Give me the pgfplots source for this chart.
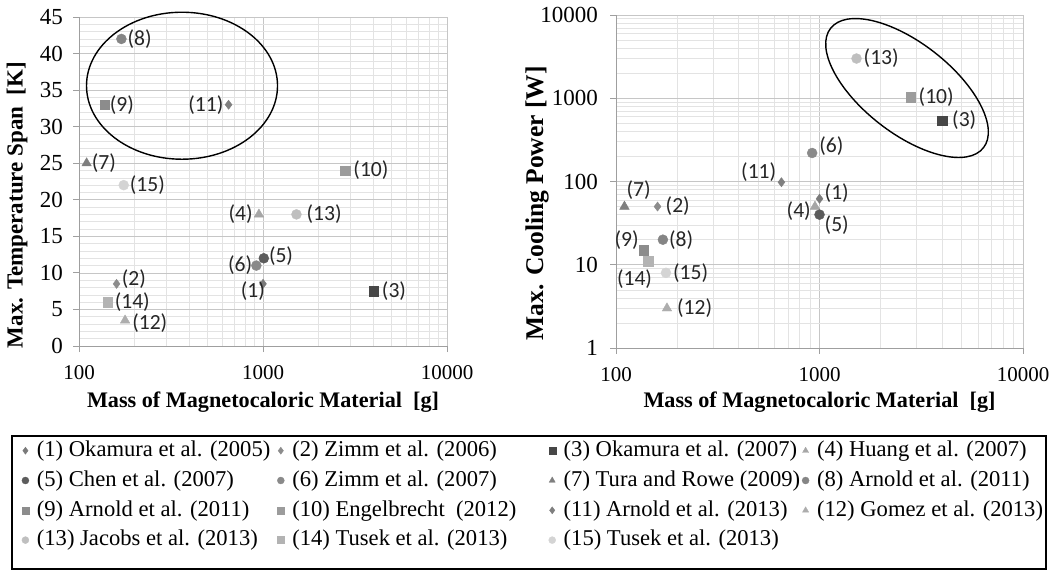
\documentclass[border=0pt]{standalone}
\usepackage{fontspec}
\setmainfont{Liberation Serif}
\newfontfamily\calibri{Carlito}
\usepackage{pgfplots}
\pgfplotsset{compat=1.18}
\definecolor{c1}{HTML}{7A7A7A}
\definecolor{c2}{HTML}{8C8C8C}
\definecolor{c3}{HTML}{474747}
\definecolor{c4}{HTML}{A6A6A6}
\definecolor{c5}{HTML}{5C5C5C}
\definecolor{c6}{HTML}{8A8A8A}
\definecolor{c7}{HTML}{7F7F7F}
\definecolor{c8}{HTML}{858585}
\definecolor{c9}{HTML}{8C8C8C}
\definecolor{c10}{HTML}{9C9C9C}
\definecolor{c11}{HTML}{7F7F7F}
\definecolor{c12}{HTML}{ADADAD}
\definecolor{c13}{HTML}{BFBFBF}
\definecolor{c14}{HTML}{B3B3B3}
\definecolor{c15}{HTML}{D4D4D4}
\pgfplotsset{
  lb/.style n args={4}{nodes near coords={#1},
    every node near coord/.append style={anchor=#2, xshift=#3pt, yshift=#4pt}},
  md/.style={only marks, mark=diamond*, mark size=4.6pt},
  ms/.style={only marks, mark=square*, mark size=4.7pt},
  mt/.style={only marks, mark=triangle*, mark size=5.5pt},
  mc/.style={only marks, mark=*, mark size=5pt},
  mybase/.style={
    scale only axis, axis lines=left,
    axis line style={-, draw=gray!75, line width=0.8pt},
    grid=both,
    major grid style={draw=gray!45, line width=0.7pt},
    minor grid style={draw=gray!22, line width=0.6pt},
    tick style={draw=gray!75, line width=0.8pt},
    tick align=outside, major tick length=6pt, minor tick length=0pt,
    ticklabel style={inner sep=0pt},
    /pgf/number format/assume math mode=true,
    xmin=100, xmax=10000, xtick={100,1000,10000},
    xticklabels={100,1000,10000},
    minor xtick={200,300,400,500,600,700,800,900,2000,3000,4000,5000,6000,7000,8000,9000},
    xticklabel style={yshift=-13pt, font=\fontsize{21}{25}\selectfont},
    yticklabel style={font=\fontsize{23}{27}\selectfont},
    xlabel style={font=\bfseries\fontsize{22.2}{26}\selectfont},
    every node near coord/.style={font=\calibri\fontsize{21.6}{26}\selectfont, inner sep=0pt, text=black!85},
    clip=false,
  },
}
\begin{document}
\begin{tikzpicture}
\path[use as bounding box] (0,0) rectangle (1056pt,571pt);
\begin{axis}[mybase, xmode=log,
  at={(79pt,225pt)}, anchor=south west, width=368pt, height=329pt,
  ymin=0, ymax=45, ytick={0,5,...,45}, minor y tick num=4,
  yticklabel style={xshift=-10pt},
  xlabel={Mass of Magnetocaloric Material\ \ [g]},
  ylabel={Max. Temperature Span\ \ [K]},
  xlabel style={at={(axis description cs:0.5,0)}, anchor=center, yshift=-56pt},
  ylabel style={at={([xshift=-62pt]axis description cs:0,0.4286)}, anchor=center,
    font=\bfseries\fontsize{23}{27}\selectfont},
  legend columns=4,
  legend style={at={(axis description cs:-0.1576,-0.2836)}, anchor=north west,
    draw=none, fill=none, inner sep=0pt, row sep=7.8pt,
    font=\fontsize{22.6}{27}\selectfont,
    nodes={inner sep=0pt, anchor=base west, text height=17pt, text depth=5pt}},
  legend image code/.code={\path (-4pt,0pt) (4pt,0pt);
    \draw[#1, mark size=3.5pt] plot coordinates {(0pt,5.8pt)};},
]
\addplot[md, color=c1, lb={(1)}{east}{2}{-7}] coordinates {(1000,8.5)};
\addlegendentry{\makebox[247pt][l]{\hspace{7.3pt}(1) Okamura et al. (2005)}}
\addplot[md, color=c2, lb={(2)}{west}{5}{5}] coordinates {(160,8.5)};
\addlegendentry{\makebox[263pt][l]{\hspace{7.3pt}(2) Zimm et al. (2006)}}
\addplot[ms, color=c3, lb={(3)}{west}{8}{0}] coordinates {(4000,7.5)};
\addlegendentry{\makebox[245pt][l]{\hspace{7.3pt}(3) Okamura et al. (2007)}}
\addplot[mt, color=c4, lb={(4)}{east}{-6}{0}] coordinates {(950,18)};
\addlegendentry{\makebox[230pt][l]{\hspace{7.3pt}(4) Huang et al. (2007)}}
\addplot[mc, color=c5, lb={(5)}{west}{5}{2}] coordinates {(1010,12)};
\addlegendentry{\makebox[247pt][l]{\hspace{7.3pt}(5) Chen et al. (2007)}}
\addplot[mc, color=c6, lb={(6)}{east}{-4}{0}] coordinates {(920,11)};
\addlegendentry{\makebox[263pt][l]{\hspace{7.3pt}(6) Zimm et al. (2007)}}
\addplot[mt, color=c7, lb={(7)}{west}{5}{0}] coordinates {(110,25)};
\addlegendentry{\makebox[245pt][l]{\hspace{7.3pt}(7) Tura and Rowe (2009)}}
\addplot[mc, color=c8, lb={(8)}{west}{6}{0}] coordinates {(170,42)};
\addlegendentry{\makebox[230pt][l]{\hspace{7.3pt}(8) Arnold et al. (2011)}}
\addplot[ms, color=c9, lb={(9)}{west}{5}{0}] coordinates {(138,33)};
\addlegendentry{\makebox[247pt][l]{\hspace{7.3pt}(9) Arnold et al. (2011)}}
\addplot[ms, color=c10, lb={(10)}{west}{8}{0}] coordinates {(2800,24)};
\addlegendentry{\makebox[263pt][l]{\hspace{7.3pt}(10) Engelbrecht\ \ (2012)}}
\addplot[md, color=c11, lb={(11)}{east}{-5}{0}] coordinates {(650,33)};
\addlegendentry{\makebox[245pt][l]{\hspace{7.3pt}(11) Arnold et al. (2013)}}
\addplot[mt, color=c12, lb={(12)}{west}{7}{-3}] coordinates {(178,3.5)};
\addlegendentry{\makebox[230pt][l]{\hspace{7.3pt}(12) Gomez et al. (2013)}}
\addplot[mc, color=c13, lb={(13)}{west}{10}{0}] coordinates {(1520,18)};
\addlegendentry{\makebox[247pt][l]{\hspace{7.3pt}(13) Jacobs et al. (2013)}}
\addplot[ms, color=c14, lb={(14)}{west}{7}{0}] coordinates {(143,6)};
\addlegendentry{\makebox[263pt][l]{\hspace{7.3pt}(14) Tusek et al. (2013)}}
\addplot[mc, color=c15, lb={(15)}{west}{6}{0}] coordinates {(175,22)};
\addlegendentry{\makebox[245pt][l]{\hspace{7.3pt}(15) Tusek et al. (2013)}}
\coordinate (E1) at (axis cs:363,35.6);
\end{axis}
\begin{axis}[mybase, xmode=log, ymode=log,
  at={(616pt,223pt)}, anchor=south west, width=407pt, height=333pt,
  ymin=1, ymax=10000, ytick={1,10,100,1000,10000},
  yticklabels={1,10,100,1000,10000},
  yticklabel style={xshift=-12pt},
  minor ytick={2,3,4,5,6,7,8,9,20,30,40,50,60,70,80,90,200,300,400,500,600,700,800,900,2000,3000,4000,5000,6000,7000,8000,9000},
  xlabel={Mass of Magnetocaloric Material\ \ [g]},
  ylabel={Max. Cooling Power [W]},
  xlabel style={at={(axis description cs:0.5,0)}, anchor=center, yshift=-54pt},
  ylabel style={at={([xshift=-79pt]axis description cs:0,0.435)}, anchor=center,
    font=\bfseries\fontsize{25.5}{30}\selectfont},
]
\addplot[md, color=c1, lb={(1)}{west}{5}{6}] coordinates {(1000,62)};
\addplot[md, color=c2, lb={(2)}{west}{8}{0}] coordinates {(160,50)};
\addplot[ms, color=c3, lb={(3)}{west}{10}{0}] coordinates {(4000,540)};
\addplot[mt, color=c4, lb={(4)}{east}{-4}{-5}] coordinates {(950,50)};
\addplot[mc, color=c5, lb={(5)}{west}{5}{-10}] coordinates {(1000,40)};
\addplot[mc, color=c6, lb={(6)}{west}{7}{7}] coordinates {(920,220)};
\addplot[mt, color=c7, lb={(7)}{west}{2}{16}] coordinates {(110,50)};
\addplot[mc, color=c8, lb={(8)}{west}{6}{0}] coordinates {(170,20)};
\addplot[ms, color=c9, lb={(9)}{east}{-5}{10}] coordinates {(137,15)};
\addplot[ms, color=c10, lb={(10)}{west}{8}{0}] coordinates {(2800,1030)};
\addplot[md, color=c11, lb={(11)}{east}{-5}{10}] coordinates {(650,98)};
\addplot[mt, color=c12, lb={(12)}{west}{10}{0}] coordinates {(178,3)};
\addplot[mc, color=c13, lb={(13)}{west}{7}{0}] coordinates {(1520,3000)};
\addplot[ms, color=c14, lb={(14)}{east}{4}{-18}] coordinates {(144,11)};
\addplot[mc, color=c15, lb={(15)}{west}{7}{0}] coordinates {(176,8)};
\coordinate (E2) at (axis cs:2692,1327);
\end{axis}
\draw[black, line width=1.4pt] (E1) ellipse [x radius=95.5pt, y radius=73.5pt];
\draw[black, line width=1.4pt, rotate around={-38:(E2)}] (E2) ellipse [x radius=97pt, y radius=45pt];
\draw[black, line width=1.2pt] (12pt,2pt) rectangle (1046pt,135pt);
\end{tikzpicture}
\end{document}
